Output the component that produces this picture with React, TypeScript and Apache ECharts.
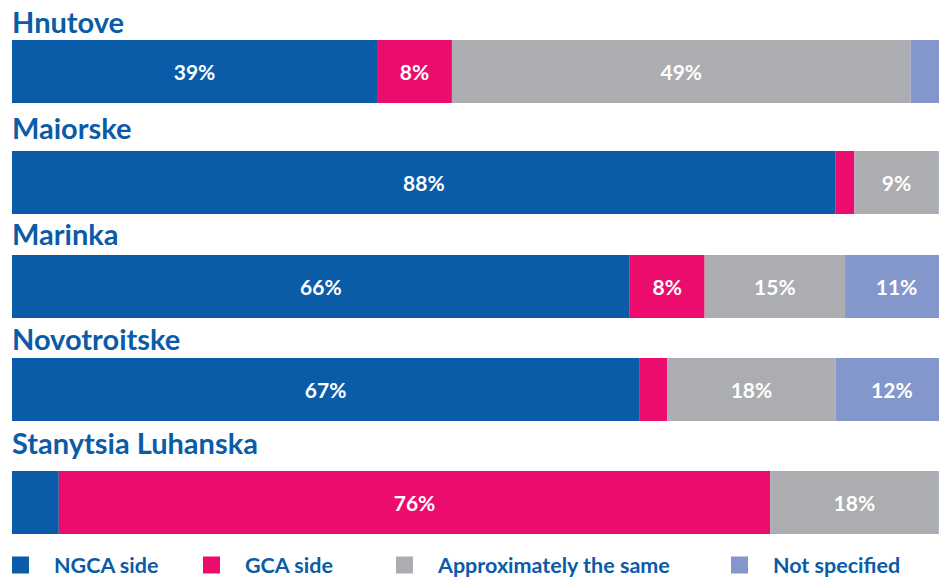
import React, { useEffect, useRef } from "react";
import * as echarts from "echarts";

const places = ["Hnutove", "Maiorske", "Marinka", "Novotroitske", "Stanytsia Luhanska"];
const seriesNames = ["NGCA side", "GCA side", "Approximately the same", "Not specified"];
const ngca = [39, 88, 66, 67, 5];
const gca = [8, 2, 8, 3, 76];
const same = [49, 9, 15, 18, 18];
const notSpecified = [4, 1, 11, 12, 1];
const colors = ["#0a5ba8", "#ec0c6e", "#acadb0", "#8397cc"];

const barTops = [40, 151, 255, 358, 471];
const titleTops = [7, 113, 219, 324, 428];
const legendLefts = [12, 203, 396, 731];

export default function App() {
  const ref = useRef<HTMLDivElement>(null);
  useEffect(() => {
    if (!ref.current) return;
    const chart = echarts.init(ref.current, null, { renderer: "svg" });
    const values = [ngca, gca, same, notSpecified];
    const grids = places.map((_, i) => ({
      left: 12,
      right: 0,
      top: barTops[i],
      height: 63,
      containLabel: false,
    }));
    const xAxes = places.map((_, i) => ({
      type: "value",
      gridIndex: i,
      min: 0,
      max: 100,
      show: false,
    }));
    const yAxes = places.map((p, i) => ({
      type: "category",
      gridIndex: i,
      data: [p],
      show: false,
    }));
    const series: any[] = [];
    places.forEach((_, i) => {
      seriesNames.forEach((name, s) => {
        series.push({
          type: "bar",
          name,
          stack: "row" + i,
          xAxisIndex: i,
          yAxisIndex: i,
          barWidth: 63,
          data: [values[s][i]],
          itemStyle: { color: colors[s] },
          label: {
            show: true,
            position: "inside",
            color: "#ffffff",
            fontFamily: "Lato",
            fontWeight: "bold",
            fontSize: 21,
            formatter: (p: any) => (p.value >= 6 ? p.value + "%" : ""),
          },
        });
      });
    });
    const titles = places.map((p, i) => ({
      text: p,
      left: 12,
      top: titleTops[i],
      padding: 0,
      textStyle: {
        color: "#0a5ba8",
        fontFamily: "Lato",
        fontWeight: "bold",
        fontSize: 29,
      },
    }));
    const legends = seriesNames.map((n, i) => ({
      data: [n],
      left: legendLefts[i],
      top: 554,
      padding: 0,
      icon: "rect",
      itemWidth: 17,
      itemHeight: 17,
      selectedMode: false,
      textStyle: {
        color: "#0a5ba8",
        fontFamily: "Lato",
        fontWeight: "bold",
        fontSize: 21.5,
        lineHeight: 21,
        padding: [0, 0, 0, 20],
      },
    }));
    chart.setOption({
      animation: false,
      title: titles,
      legend: legends,
      grid: grids,
      xAxis: xAxes,
      yAxis: yAxes,
      series,
    });
    return () => chart.dispose();
  }, []);
  return (
    <div
      ref={ref}
      style={{ position: "fixed", left: 0, top: 0, width: 948, height: 577, background: "#fff" }}
    />
  );
}
